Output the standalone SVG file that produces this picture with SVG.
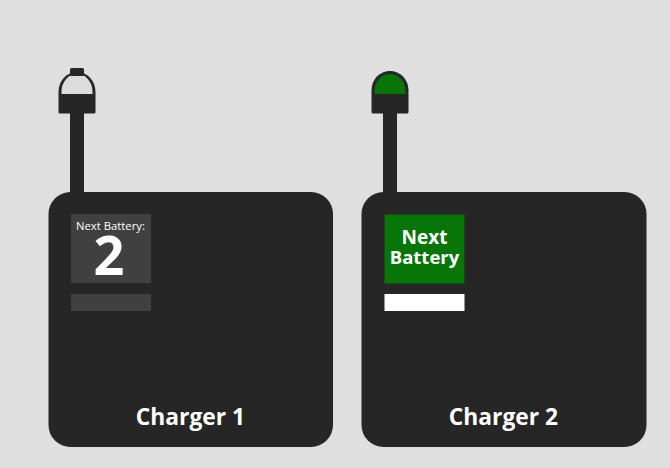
<svg xmlns="http://www.w3.org/2000/svg" width="670" height="468" viewBox="0 0 670 468">
<style>
.d{fill:#262626}
.t{font-family:"Open Sans","Noto Sans","Liberation Sans",sans-serif;fill:#fff;text-anchor:middle}
.b{font-weight:700}
</style>
<rect width="670" height="468" fill="#dfdfdf"/>
<g id="charger-1">
<rect class="d" x="70" y="112" width="14" height="82"/>
<rect class="d" x="48.500" y="192" width="284.500" height="255" rx="22"/>
<path class="d" d="M58.500 112V92A18.500 20 0 0 1 95.500 92V112Q95.500 113.500 94 113.500H60Q58.500 113.500 58.500 112Z"/>
<path d="M61.500 94V91.500A15.500 17.500 0 0 1 92.500 91.500V94Z" fill="#dcdcdc"/>
<rect class="d" x="70" y="68" width="14" height="8" rx="1.500"/>
<rect x="71" y="214" width="80" height="69" fill="#404040"/>
<rect x="71" y="294" width="80" height="17" fill="#404040"/>
<text class="t" x="110.500" y="230" font-size="11.300">Next Battery:</text>
<text class="t b" x="109" y="275" font-size="54">2</text>
<text class="t b" x="190.500" y="425" font-size="22.800">Charger 1</text>
</g>
<g id="charger-2">
<rect class="d" x="383" y="112" width="14" height="82"/>
<rect class="d" x="361.500" y="192" width="285" height="255" rx="22"/>
<path class="d" d="M371.500 112V90A18.500 19 0 0 1 408.500 90V112Q408.500 113.500 407 113.500H373Q371.500 113.500 371.500 112Z"/>
<path d="M374.500 94V91A15.500 17 0 0 1 405.500 91V94Z" fill="#077507"/>
<rect x="384.500" y="214.500" width="80" height="69" fill="#077507"/>
<rect x="384.500" y="294" width="80" height="17" fill="#fff"/>
<text class="t b" x="424.500" y="244" font-size="19">Next</text>
<text class="t b" x="424.500" y="264" font-size="18.500">Battery</text>
<text class="t b" x="503.500" y="425" font-size="22.800">Charger 2</text>
</g>
<g id="connectors"></g>
</svg>
